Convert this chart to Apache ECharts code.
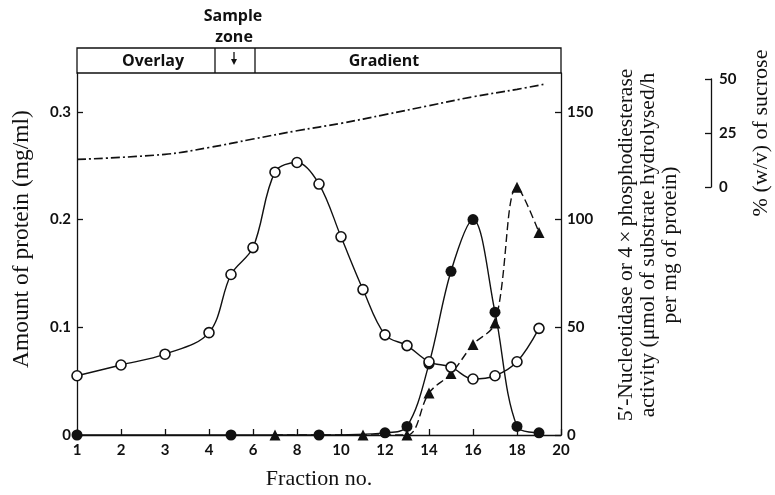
<!DOCTYPE html>
<html>
<head>
<meta charset="utf-8">
<script src="https://cdn.jsdelivr.net/npm/echarts@6/dist/echarts.min.js"></script>
<style>
  html, body { margin: 0; padding: 0; background: #fff; }
  #chart { width: 775px; height: 495px; }
</style>
</head>
<body>
<div id="chart"></div>
<script>
// fractions 1-4 take a full tick step each, later fractions half a step
const xTickLabels = [1, 2, 3, 4, 6, 8, 10, 12, 14, 16, 18, 20];

const proteinFractions = [1, 2, 3, 4, 5, 6, 7, 8, 9, 10, 11, 12, 13, 14, 15, 16, 17, 18, 19];
const proteinValues = [0.055, 0.065, 0.075, 0.095, 0.149, 0.174, 0.244, 0.253, 0.233, 0.184, 0.135, 0.093, 0.083, 0.068, 0.063, 0.052, 0.055, 0.068, 0.099];

const nucleotidaseFractions = [1, 5, 9, 12, 13, 14, 15, 16, 17, 18, 19];
const nucleotidaseValues = [0, 0, 0, 1, 4, 33, 76, 100, 57, 4, 1];

const phosphoFractions = [7, 11, 13, 14, 15, 16, 17, 18, 19];
const phosphoValues = [0, 0, 0, 19.5, 28.5, 42, 52, 115, 94];

const sucroseFractions = [1, 3, 4, 6, 8, 10, 12, 14, 16, 18, 19.2];
const sucroseValues = [12.1, 14.5, 17.7, 21.7, 25.6, 29.1, 33.2, 37.4, 41.6, 45.1, 47.4];

const leftTicks = [0, 0.1, 0.2, 0.3];
const rightTicks = [0, 50, 100, 150];
const sucroseTicks = [0, 25, 50];

// layout
const G = { left: 77, right: 561, top: 73, bottom: 441 };
const SUC = { x: 712, top: 79, bottom: 187 };
const HEAD = { top: 48, div1: 215, div2: 255 };

const leftMax = 0.1 * (G.bottom - G.top) / 109.5;
const rightMax = leftMax * 500;
const sucPx = (SUC.bottom - SUC.top) / 50;
const sucMin = -(G.bottom - SUC.bottom) / sucPx;
const sucMax = 50 + (SUC.top - G.top) / sucPx;

const pos = f => (f <= 4 ? f : 4 + (f - 4) / 2);
const unpos = v => (v <= 4 ? v : 4 + (v - 4) * 2);
const pairs = (xs, ys) => xs.map((f, i) => [pos(f), ys[i]]);

const SANS = 'Lato';
const HEADSANS = 'Open Sans';
const SERIF = 'Liberation Serif';
const BLACK = '#111';

const chart = echarts.init(document.getElementById('chart'));

const axisLine = { show: true, lineStyle: { color: BLACK, width: 1.3 } };
const tickLbl = { color: BLACK, fontFamily: SANS, fontWeight: 'bold', fontSize: 15 };
const headTxt = { fontFamily: HEADSANS, fontWeight: 'bold', fontSize: 16, fill: BLACK, align: 'center', verticalAlign: 'middle' };

chart.setOption({
  backgroundColor: '#fff',
  animation: false,
  grid: [
    { left: G.left, top: G.top, width: G.right - G.left, height: G.bottom - G.top },
    { left: SUC.x - 1, top: SUC.top, width: 1, height: SUC.bottom - SUC.top }
  ],
  xAxis: [
    {
      type: 'value', gridIndex: 0, min: 1, max: pos(20), interval: 1,
      axisLine: axisLine,
      axisTick: { inside: true, length: 6, lineStyle: { color: BLACK, width: 1.3 } },
      axisLabel: { ...tickLbl, margin: 8, formatter: v => String(unpos(v)) },
      splitLine: { show: false },
      name: 'Fraction no.', nameLocation: 'middle', nameGap: 33,
      nameTextStyle: { fontFamily: SERIF, fontSize: 22, color: BLACK }
    },
    { type: 'value', gridIndex: 1, show: false, min: 0, max: 1 }
  ],
  yAxis: [
    {
      type: 'value', gridIndex: 0, position: 'left', min: 0, max: leftMax,
      axisLine: axisLine,
      axisTick: { inside: true, length: 6, customValues: leftTicks, lineStyle: { color: BLACK, width: 1.3 } },
      axisLabel: { ...tickLbl, margin: 6, customValues: leftTicks, formatter: v => (v === 0 ? '0' : v.toFixed(1)) },
      splitLine: { show: false },
      name: 'Amount of protein (mg/ml)', nameLocation: 'middle', nameGap: 43, nameRotate: 90,
      nameTextStyle: { fontFamily: SERIF, fontSize: 23.5, color: BLACK, padding: [0, 0, 0, 30] }
    },
    {
      type: 'value', gridIndex: 0, position: 'right', min: 0, max: rightMax,
      axisLine: axisLine,
      axisTick: { inside: true, length: 6, customValues: rightTicks, lineStyle: { color: BLACK, width: 1.3 } },
      axisLabel: { ...tickLbl, margin: 6, customValues: rightTicks },
      splitLine: { show: false },
      name: '5\u2032-Nucleotidase or 4\u2009\u00d7\u2009phosphodiesterase\nactivity (\u03bcmol of substrate hydrolysed/h\nper mg of protein)',
      nameLocation: 'middle', nameGap: 54, nameRotate: 90,
      nameTextStyle: { fontFamily: SERIF, fontSize: 21.5, lineHeight: 22, color: BLACK, align: 'center', padding: [0, 0, 0, 18] }
    },
    {
      type: 'value', gridIndex: 0, show: false, min: sucMin, max: sucMax
    },
    {
      type: 'value', gridIndex: 1, position: 'right', min: 0, max: 50,
      axisLine: axisLine,
      axisTick: { inside: true, length: 6, customValues: sucroseTicks, lineStyle: { color: BLACK, width: 1.3 } },
      axisLabel: { ...tickLbl, fontSize: 15, margin: 7, customValues: sucroseTicks },
      splitLine: { show: false },
      name: '% (w/v) of sucrose', nameLocation: 'middle', nameGap: 38, nameRotate: 90,
      nameTextStyle: { fontFamily: SERIF, fontSize: 22, color: BLACK }
    }
  ],
  series: [
    {
      name: 'sucrose', type: 'line', xAxisIndex: 0, yAxisIndex: 2,
      data: pairs(sucroseFractions, sucroseValues), smooth: 0.4,
      showSymbol: false, symbol: 'none',
      lineStyle: { color: BLACK, width: 1.7, type: [9, 3, 2, 3] }, z: 2
    },
    {
      name: 'phosphodiesterase', type: 'line', xAxisIndex: 0, yAxisIndex: 1,
      data: pairs(phosphoFractions, phosphoValues), smooth: 0.35,
      symbol: 'triangle', symbolSize: 11,
      itemStyle: { color: BLACK },
      lineStyle: { color: BLACK, width: 1.4, type: [8, 4] }, z: 3
    },
    {
      name: 'nucleotidase', type: 'line', xAxisIndex: 0, yAxisIndex: 1,
      data: pairs(nucleotidaseFractions, nucleotidaseValues), smooth: 0.35,
      symbol: 'circle', symbolSize: 11,
      itemStyle: { color: BLACK },
      lineStyle: { color: BLACK, width: 1.4 }, z: 4
    },
    {
      name: 'protein', type: 'line', xAxisIndex: 0, yAxisIndex: 0,
      data: pairs(proteinFractions, proteinValues), smooth: 0.35,
      symbol: 'circle', symbolSize: 10,
      itemStyle: { color: '#fff', borderColor: BLACK, borderWidth: 1.6 },
      lineStyle: { color: BLACK, width: 1.4 }, z: 5
    }
  ],
  graphic: [
    {
      type: 'rect', silent: true,
      shape: { x: G.left, y: HEAD.top, width: G.right - G.left, height: G.top - HEAD.top },
      style: { fill: 'none', stroke: BLACK, lineWidth: 1.3 }
    },
    { type: 'line', silent: true, shape: { x1: HEAD.div1, y1: HEAD.top, x2: HEAD.div1, y2: G.top }, style: { stroke: BLACK, lineWidth: 1.3 } },
    { type: 'line', silent: true, shape: { x1: HEAD.div2, y1: HEAD.top, x2: HEAD.div2, y2: G.top }, style: { stroke: BLACK, lineWidth: 1.3 } },
    { type: 'text', silent: true, x: 153, y: (HEAD.top + G.top) / 2 + 1, style: { ...headTxt, text: 'Overlay' } },
    { type: 'text', silent: true, x: 384, y: (HEAD.top + G.top) / 2 + 1, style: { ...headTxt, text: 'Gradient' } },
    { type: 'text', silent: true, x: 233, y: 16, style: { ...headTxt, text: 'Sample' } },
    { type: 'text', silent: true, x: 234, y: 37, style: { ...headTxt, text: 'zone' } },
    { type: 'line', silent: true, shape: { x1: 234, y1: 52, x2: 234, y2: 60 }, style: { stroke: BLACK, lineWidth: 1.3 } },
    { type: 'polygon', silent: true, shape: { points: [[231, 59], [237, 59], [234, 65]] }, style: { fill: BLACK } }
  ]
});
</script>
</body>
</html>
